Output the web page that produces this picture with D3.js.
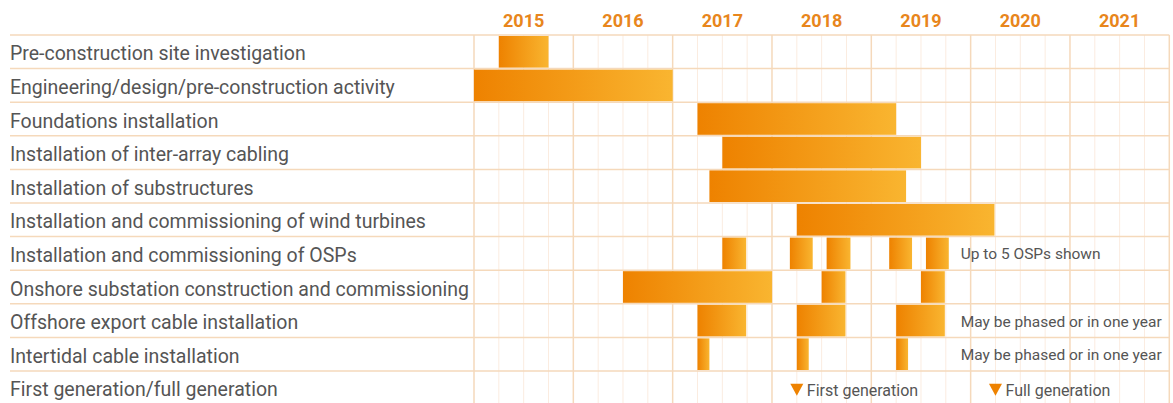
<!DOCTYPE html>
<html>
<head>
<meta charset="utf-8">
<script src="https://cdn.jsdelivr.net/npm/d3@7"></script>
<style>
  body { margin: 0; background: #fff; }
  svg { display: block; }
</style>
</head>
<body>
<div id="chart"></div>
<script>
// data
var years = [2015, 2016, 2017, 2018, 2019, 2020, 2021];

var tasks = [
  "Pre-construction site investigation",
  "Engineering/design/pre-construction activity",
  "Foundations installation",
  "Installation of inter-array cabling",
  "Installation of substructures",
  "Installation and commissioning of wind turbines",
  "Installation and commissioning of OSPs",
  "Onshore substation construction and commissioning",
  "Offshore export cable installation",
  "Intertidal cable installation",
  "First generation/full generation"
];

// [start, end] spans per task, in years
var taskSpans = [
  [[2015.25, 2015.75]],
  [[2015.0, 2017.0]],
  [[2017.25, 2019.25]],
  [[2017.5, 2019.5]],
  [[2017.37, 2019.35]],
  [[2018.25, 2020.24]],
  [[2017.5, 2017.74], [2018.18, 2018.41], [2018.55, 2018.79], [2019.18, 2019.41], [2019.55, 2019.78]],
  [[2016.5, 2018.0], [2018.5, 2018.74], [2019.5, 2019.74]],
  [[2017.25, 2017.74], [2018.25, 2018.74], [2019.25, 2019.74]],
  [[2017.25, 2017.37], [2018.25, 2018.37], [2019.25, 2019.37]],
  []
];

var milestones = [2018.25, 2020.25];
var milestoneLabels = ["First generation", "Full generation"];

var noteRows = [6, 8, 9];
var noteTexts = ["Up to 5 OSPs shown", "May be phased or in one year", "May be phased or in one year"];
var noteStart = 2019.9;

// set svg vars
var svgWidth = 1173;
var svgHeight = 403;

var svg = d3.select("#chart")
  .append("svg")
  .attr("width", svgWidth)
  .attr("height", svgHeight);

// gradient for bars
var grad = svg.append("defs")
  .append("linearGradient")
  .attr("id", "barGrad")
  .attr("x1", "0%").attr("x2", "100%")
  .attr("y1", "0%").attr("y2", "0%");
grad.append("stop").attr("offset", "0%").attr("stop-color", "#ee8200");
grad.append("stop").attr("offset", "100%").attr("stop-color", "#f9b530");

// scales
var xScale = d3.scaleLinear()
  .domain([2015, 2022])
  .range([474, 1169.3]);

var yScale = d3.scaleBand()
  .domain(d3.range(tasks.length))
  .range([35, 35 + tasks.length * 33.6])
  .padding(0);

var quarters = d3.range(2015, 2022.01, 0.25);

// minor grid (quarters)
svg.append("g")
  .selectAll("line")
  .data(quarters.filter(q => q % 1 !== 0))
  .enter()
  .append("line")
  .attr("x1", d => xScale(d))
  .attr("x2", d => xScale(d))
  .attr("y1", yScale.range()[0])
  .attr("y2", svgHeight)
  .attr("stroke", "#fbece0")
  .attr("stroke-width", 1);

// major grid (years)
svg.append("g")
  .selectAll("line")
  .data(d3.range(2015, 2023))
  .enter()
  .append("line")
  .attr("x1", d => xScale(d))
  .attr("x2", d => xScale(d))
  .attr("y1", yScale.range()[0])
  .attr("y2", svgHeight)
  .attr("stroke", "#f5d9bb")
  .attr("stroke-width", 1.5);

// row lines
svg.append("g")
  .selectAll("line")
  .data(d3.range(tasks.length + 1))
  .enter()
  .append("line")
  .attr("x1", 10)
  .attr("x2", xScale(2022))
  .attr("y1", d => yScale.range()[0] + d * yScale.step())
  .attr("y2", d => yScale.range()[0] + d * yScale.step())
  .attr("stroke", "#f5d9bb")
  .attr("stroke-width", 1.5);

// year labels
svg.append("g")
  .selectAll("text")
  .data(years)
  .enter()
  .append("text")
  .attr("x", d => xScale(d + 0.5))
  .attr("y", 27)
  .attr("text-anchor", "middle")
  .attr("font-family", "Roboto, sans-serif")
  .attr("font-weight", 700)
  .attr("font-size", 18)
  .attr("fill", "#e8861c")
  .text(d => d);

// task labels
svg.append("g")
  .selectAll("text")
  .data(tasks)
  .enter()
  .append("text")
  .attr("x", 10)
  .attr("y", (d, i) => yScale(i) + yScale.bandwidth() / 2 + 8.5)
  .attr("font-family", "Roboto, sans-serif")
  .attr("font-size", 19.5)
  .attr("fill", "#555")
  .text(d => d);

// bars
var barData = [];
taskSpans.forEach(function(spans, i) {
  spans.forEach(function(s) {
    barData.push({ row: i, start: s[0], end: s[1] });
  });
});

svg.append("g")
  .selectAll("rect")
  .data(barData)
  .enter()
  .append("rect")
  .attr("x", d => xScale(d.start))
  .attr("y", d => yScale(d.row) + 1)
  .attr("width", d => xScale(d.end) - xScale(d.start))
  .attr("height", yScale.bandwidth() - 2)
  .attr("fill", "url(#barGrad)");

// notes
svg.append("g")
  .selectAll("text")
  .data(noteTexts)
  .enter()
  .append("text")
  .attr("x", xScale(noteStart))
  .attr("y", (d, i) => yScale(noteRows[i]) + yScale.bandwidth() / 2 + 6)
  .attr("font-family", "Roboto, sans-serif")
  .attr("font-size", 15.5)
  .attr("fill", "#555")
  .text(d => d);

// milestones
var lastRow = tasks.length - 1;
var ms = svg.append("g")
  .selectAll("g")
  .data(milestones)
  .enter()
  .append("g")
  .attr("transform", d => `translate(${xScale(d)}, ${yScale(lastRow) + yScale.bandwidth() / 2 + 2})`);

ms.append("path")
  .attr("d", "M-6.5,-6 L6.5,-6 L0,6 Z")
  .attr("fill", "#ee8200");

ms.append("text")
  .attr("x", 10)
  .attr("y", 6)
  .attr("font-family", "Roboto, sans-serif")
  .attr("font-size", 16)
  .attr("fill", "#555")
  .text((d, i) => milestoneLabels[i]);
</script>
</body>
</html>
